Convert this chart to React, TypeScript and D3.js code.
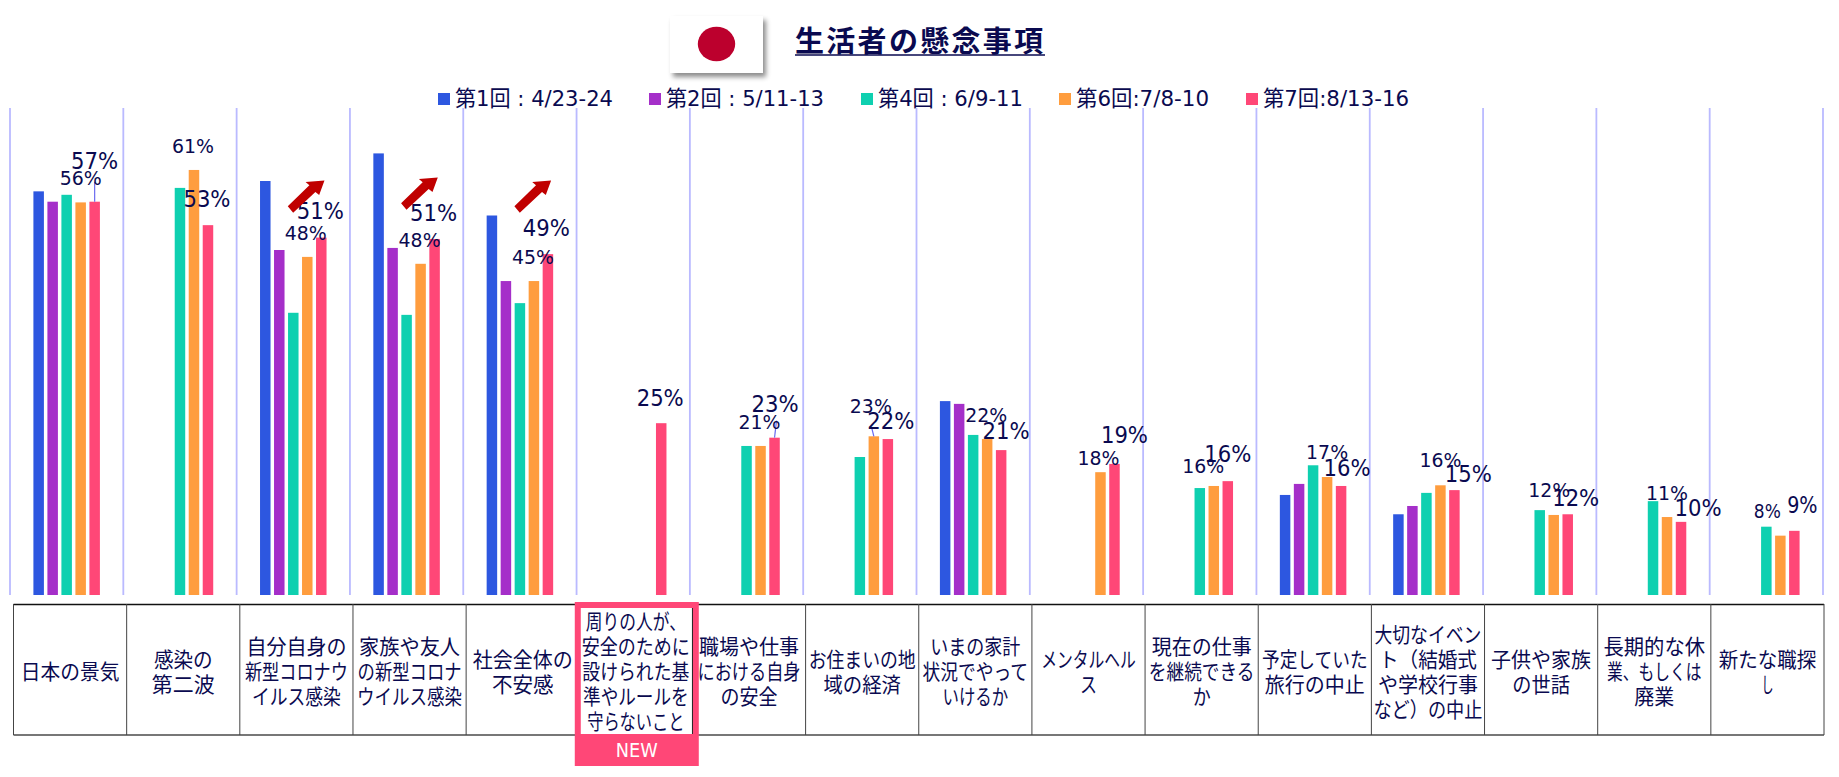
import { useEffect, useRef } from "react";
import * as d3 from "d3";

const categories = [
  ["日本の景気"],
  ["感染の", "第二波"],
  ["自分自身の", "新型コロナウ", "イルス感染"],
  ["家族や友人", "の新型コロナ", "ウイルス感染"],
  ["社会全体の", "不安感"],
  ["周りの人が、", "安全のために", "設けられた基", "準やルールを", "守らないこと"],
  ["職場や仕事", "における自身", "の安全"],
  ["お住まいの地", "域の経済"],
  ["いまの家計", "状況でやって", "いけるか"],
  ["メンタルヘル", "ス"],
  ["現在の仕事", "を継続できる", "か"],
  ["予定していた", "旅行の中止"],
  ["大切なイベン", "ト（結婚式", "や学校行事", "など）の中止"],
  ["子供や家族", "の世話"],
  ["長期的な休", "業、もしくは", "廃業"],
  ["新たな職探", "し"],
];

// widths of the wrapped lines above, the slide font is narrower than ours
const lineWidths = [
  [98.6],
  [58.7, 62.8],
  [100, 103, 89],
  [101, 104, 105],
  [100, 61.6],
  [100, 108, 107, 105.6, 97.4],
  [100, 103, 57],
  [107, 77.5],
  [90, 105.6, 65.7],
  [94.5, 17],
  [100, 105.6, 18],
  [105.6, 100],
  [107, 98, 100, 109],
  [100, 57.5],
  [101.5, 94.5, 40],
  [97.4, 12],
];

const seriesNames = ["第1回 : 4/23-24", "第2回 : 5/11-13", "第4回 : 6/9-11", "第6回:7/8-10", "第7回:8/13-16"];
const seriesColors = ["#2d57e0", "#a52fc9", "#0fd0b0", "#ff9d3e", "#ff4777"];
const legendWidths = [158, 158, 145, 133, 146];

const round1 = [58.5, null, 60, 64, 55, null, null, null, 28.1, null, null, 14.5, 11.7, null, null, null];
const round2 = [57, null, 50, 50.3, 45.5, null, null, null, 27.7, null, null, 16.1, 12.9, null, null, null];
const round4 = [58, 59, 40.9, 40.6, 42.3, null, 21.6, 20, 23.2, null, 15.5, 18.8, 14.8, 12.3, 13.6, 9.9];
const round6 = [56.9, 61.6, 49, 48, 45.5, null, 21.6, 23, 22.6, 17.8, 15.8, 17.1, 15.9, 11.6, 11.3, 8.6];
const round7 = [57, 53.6, 51.8, 51.6, 49.4, 24.9, 22.8, 22.6, 21, 19, 16.5, 15.8, 15.2, 11.7, 10.6, 9.3];
const seriesValues = [round1, round2, round4, round6, round7];

const orangeLabels = ["56%", "61%", "48%", "48%", "45%", null, "21%", "23%", "22%", "18%", "16%", "17%", "16%", "12%", "11%", "8%"];
const pinkLabels = ["57%", "53%", "51%", "51%", "49%", "25%", "23%", "22%", "21%", "19%", "16%", "16%", "15%", "12%", "10%", "9%"];

// label nudges from the top of their bar, hand placed like in the original slide
const orangeNudge = [[0, -17], [-1, -17], [-1.5, -17], [-1, -17], [-1, -17], [0, 0], [-1, -17], [-3, -23], [-1, -17], [-2, -7], [-10.5, -13], [0, -18], [0, -18], [-4.5, -18], [0, -17], [-13, -18]];
const pinkNudge = [[0, -33], [-1, -18], [-1, -19], [-1, -18], [-1.5, -18], [-1, -17], [0.5, -26], [3, -10], [5, -11], [10, -21], [0, -19], [6, -10], [14, -8], [8, -8], [17, -6], [8, -18]];

// [category, series, dx, length] thin lines joining a label to its bar
const leaders = [
  [0, 4, 0, 20],
  [6, 4, 2, 17],
  [7, 3, -2, 8],
];

const arrowCategories = [2, 3, 4];
const arrowDrop = [0, 3, 0];
const legendX = [438, 649, 861, 1059, 1246];

const INK = "#0a0a50";
const LATIN = "'DejaVu Sans', 'Noto Sans CJK JP', sans-serif";
const CJK = "'Noto Sans CJK JP', sans-serif";

function App() {
  const ref = useRef<SVGSVGElement>(null);

  useEffect(() => {
    if (!ref.current) return;
    const svg = d3.select(ref.current);
    svg.selectAll("*").remove();

    const defs = svg.append("defs");
    defs
      .append("filter")
      .attr("id", "flag-shadow")
      .attr("x", "-20%")
      .attr("y", "-20%")
      .attr("width", "150%")
      .attr("height", "150%")
      .append("feDropShadow")
      .attr("dx", 3)
      .attr("dy", 4)
      .attr("stdDeviation", 2.5)
      .attr("flood-color", "#000")
      .attr("flood-opacity", 0.45);

    const idx = categories.map((_, i) => i);
    const x = d3.scaleBand<number>().domain(idx).range([10, 1823]);
    const inner = d3
      .scaleBand<number>()
      .domain(d3.range(5))
      .range([0, 70])
      .paddingInner(0.25)
      .paddingOuter(0.125);
    const y = d3.scaleLinear().domain([0, 70]).range([595, 112]);
    const tableX = d3.scaleBand<number>().domain(idx).range([13.5, 1824]);

    const barLeft = (c: number, s: number) => x(c)! + (x.bandwidth() - 70) / 2 + inner(s)!;
    const barMid = (c: number, s: number) => barLeft(c, s) + inner.bandwidth() / 2;

    // 标题和国旗
    svg
      .append("rect")
      .attr("x", 670)
      .attr("y", 16)
      .attr("width", 93)
      .attr("height", 57)
      .attr("fill", "#fff")
      .attr("filter", "url(#flag-shadow)");
    svg
      .append("ellipse")
      .attr("cx", 716.5)
      .attr("cy", 44)
      .attr("rx", 18.7)
      .attr("ry", 17.3)
      .attr("fill", "#bc002d");
    svg
      .append("text")
      .attr("x", 795)
      .attr("y", 52)
      .attr("font-family", CJK)
      .attr("font-weight", 700)
      .attr("font-size", 29)
      .attr("letter-spacing", 2.3)
      .attr("fill", INK)
      .text("生活者の懸念事項");
    svg
      .append("line")
      .attr("x1", 795)
      .attr("x2", 1045)
      .attr("y1", 55)
      .attr("y2", 55)
      .attr("stroke", INK)
      .attr("stroke-width", 1.6);

    // legend
    const legend = svg
      .selectAll(".legend")
      .data(seriesNames)
      .enter()
      .append("g")
      .attr("class", "legend")
      .attr("transform", (_, i) => `translate(${legendX[i]},93)`);
    legend
      .append("rect")
      .attr("width", 12)
      .attr("height", 12)
      .attr("fill", (_, i) => seriesColors[i]);
    legend
      .append("text")
      .attr("x", 17)
      .attr("y", 12.5)
      .attr("font-family", LATIN)
      .attr("font-size", 22)
      .attr("fill", INK)
      .attr("textLength", (_, i) => legendWidths[i])
      .attr("lengthAdjust", "spacingAndGlyphs")
      .text((d) => d);

    // 竖向网格线
    svg
      .selectAll(".grid")
      .data(d3.range(17))
      .enter()
      .append("line")
      .attr("class", "grid")
      .attr("x1", (d) => 10 + d * x.step())
      .attr("x2", (d) => 10 + d * x.step())
      .attr("y1", 108)
      .attr("y2", 595)
      .attr("stroke", "#babaff")
      .attr("stroke-width", 1.8);

    // bars
    seriesValues.forEach((values, s) => {
      svg
        .append("g")
        .selectAll("rect")
        .data(values.map((v, c) => ({ v, c })).filter((d) => d.v !== null))
        .enter()
        .append("rect")
        .attr("x", (d) => barLeft(d.c, s))
        .attr("y", (d) => y(d.v as number))
        .attr("width", inner.bandwidth())
        .attr("height", (d) => y(0) - y(d.v as number))
        .attr("fill", seriesColors[s]);
    });

    // leader lines
    svg
      .selectAll(".leader")
      .data(leaders)
      .enter()
      .append("line")
      .attr("class", "leader")
      .attr("x1", (d) => barMid(d[0], d[1]))
      .attr("y1", (d) => y(seriesValues[d[1]][d[0]] as number))
      .attr("x2", (d) => barMid(d[0], d[1]) + d[2])
      .attr("y2", (d) => y(seriesValues[d[1]][d[0]] as number) - d[3])
      .attr("stroke", "#6a6af0")
      .attr("stroke-width", 1.2);

    // 数据标签
    const drawLabels = (labels: (string | null)[], nudge: number[][], s: number, size: number, perChar: number) => {
      labels.forEach((label, c) => {
        if (!label) return;
        svg
          .append("text")
          .attr("x", barMid(c, s) + nudge[c][0])
          .attr("y", y(seriesValues[s][c] as number) + nudge[c][1])
          .attr("text-anchor", "middle")
          .attr("font-family", LATIN)
          .attr("font-size", size)
          .attr("fill", INK)
          .attr("textLength", perChar * label.length - (label.length === 2 ? 1 : 0))
          .attr("lengthAdjust", "spacingAndGlyphs")
          .text(label);
      });
    };
    drawLabels(orangeLabels, orangeNudge, 3, 20, 14);
    drawLabels(pinkLabels, pinkNudge, 4, 22.5, 15.7);

    // arrows
    const arrowShape = "M-18.8,12.2 L2.8,-8.8 L-1,-12 L17.9,-13.5 L12.6,1 L8.8,-2 L-13.4,18.8 Z";
    svg
      .selectAll(".arrow")
      .data(arrowCategories)
      .enter()
      .append("path")
      .attr("class", "arrow")
      .attr("d", arrowShape)
      .attr("fill", "#c00000")
      .attr(
        "transform",
        (d, i) => `translate(${x(d)! + x.bandwidth() / 2 + 13.3},${194 - arrowDrop[i]})`
      );

    // 底部表格
    const table = svg.append("g");
    table
      .append("line")
      .attr("x1", 13.5)
      .attr("x2", 1824)
      .attr("y1", 604.5)
      .attr("y2", 604.5)
      .attr("stroke", "#111")
      .attr("stroke-width", 1.4);
    table
      .append("line")
      .attr("x1", 13.5)
      .attr("x2", 1824)
      .attr("y1", 735)
      .attr("y2", 735)
      .attr("stroke", "#777")
      .attr("stroke-width", 2);
    table
      .selectAll(".col")
      .data(d3.range(17))
      .enter()
      .append("line")
      .attr("class", "col")
      .attr("x1", (d) => 13.5 + d * tableX.step())
      .attr("x2", (d) => 13.5 + d * tableX.step())
      .attr("y1", 604)
      .attr("y2", 735)
      .attr("stroke", "#444")
      .attr("stroke-width", 1);

    // NEW badge sits over the table lines
    const newCat = 5;
    svg
      .append("rect")
      .attr("x", tableX(newCat)! - 4.5)
      .attr("y", 602)
      .attr("width", 124)
      .attr("height", 164)
      .attr("fill", "#ff4777");
    svg
      .append("rect")
      .attr("x", tableX(newCat)! + 1.5)
      .attr("y", 608)
      .attr("width", 111.5)
      .attr("height", 126)
      .attr("fill", "#fff");
    svg
      .append("line")
      .attr("x1", tableX(newCat)! + tableX.step())
      .attr("x2", tableX(newCat)! + tableX.step())
      .attr("y1", 608)
      .attr("y2", 734)
      .attr("stroke", "#222")
      .attr("stroke-width", 1);
    svg
      .append("text")
      .attr("x", tableX(newCat)! + tableX.bandwidth() / 2 + 1)
      .attr("y", 756.5)
      .attr("text-anchor", "middle")
      .attr("font-family", LATIN)
      .attr("font-size", 19)
      .attr("fill", "#fff")
      .attr("textLength", 42)
      .attr("lengthAdjust", "spacingAndGlyphs")
      .text("NEW");

    const cells = svg
      .append("g")
      .selectAll(".cell")
      .data(categories)
      .enter()
      .append("g")
      .attr("class", "cell");
    cells
      .selectAll("text")
      .data((d, i) => d.map((line, n) => ({ line, n, i, total: d.length })))
      .enter()
      .append("text")
      .attr("x", (d) => tableX(d.i)! + tableX.bandwidth() / 2)
      .attr("y", (d) => 679 + (d.n - (d.total - 1) / 2) * 25)
      .attr("text-anchor", "middle")
      .attr("font-family", CJK)
      .attr("font-size", 21)
      .attr("fill", INK)
      .attr("textLength", (d) => lineWidths[d.i][d.n])
      .attr("lengthAdjust", "spacingAndGlyphs")
      .text((d) => d.line);
  }, []);

  return (
    <svg
      ref={ref}
      width={1839}
      height={777}
      viewBox="0 0 1839 777"
      style={{ position: "absolute", left: 0, top: 0, display: "block", background: "#fff" }}
    />
  );
}

export default App;
